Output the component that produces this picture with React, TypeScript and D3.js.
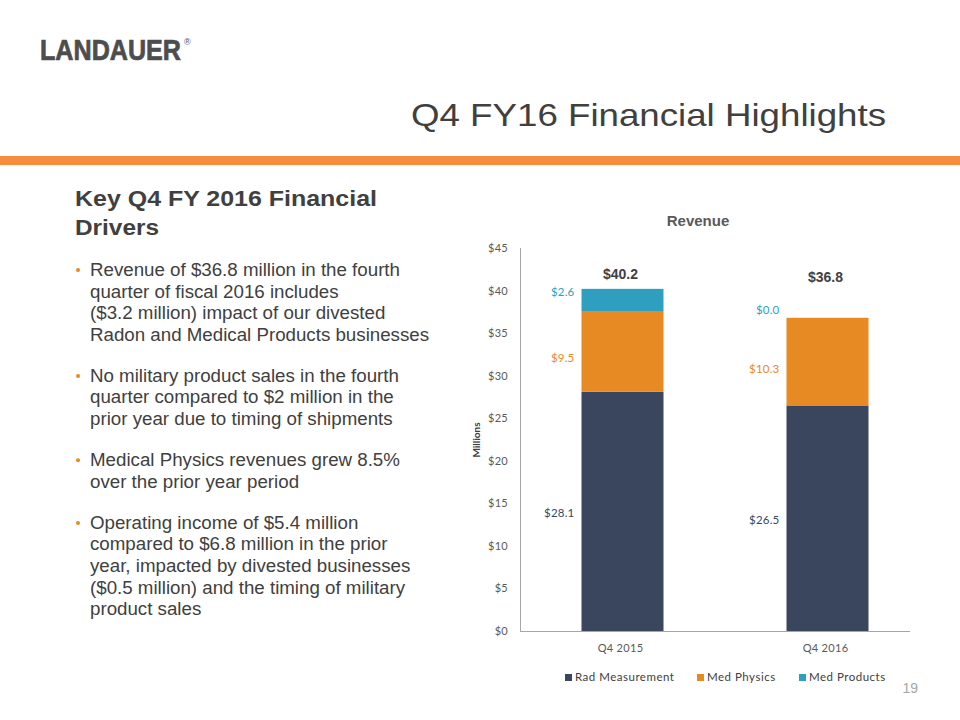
import React from "react";
import * as d3 from "d3";

const categories = ["Q4 2015", "Q4 2016"];
const seriesNames = ["Rad Measurement", "Med Physics", "Med Products"];
const radMeasurement = [28.1, 26.5];
const medPhysics = [9.5, 10.3];
const medProducts = [2.6, 0.0];
const totals = [40.2, 36.8];
const yTicks = [0, 5, 10, 15, 20, 25, 30, 35, 40, 45];
const seriesColors = ["#3A455E", "#E88A24", "#2E9FBF"];
const labelColors = ["#3A455E", "#E88A24", "#2E9FBF"];

const bullets = [
  ["Revenue of $36.8 million in the fourth", "quarter of fiscal 2016 includes", "($3.2 million) impact of our divested", "Radon and Medical Products businesses"],
  ["No military product sales in the fourth", "quarter compared to $2 million in the", "prior year due to timing of shipments"],
  ["Medical Physics revenues grew 8.5%", "over the prior year period"],
  ["Operating income of $5.4 million", "compared to $6.8 million in the prior", "year, impacted by divested businesses", "($0.5 million) and the timing of military", "product sales"],
];

export default function App() {
  const y = d3.scaleLinear().domain([0, 45]).range([631, 248]);
  const x = d3.scaleBand().domain(categories).range([520, 930]).paddingInner(0.6).paddingOuter(0.3);
  const values = [radMeasurement, medPhysics, medProducts];
  const rows = categories.map((c, i) => {
    const r: any = { cat: c };
    seriesNames.forEach((s, k) => (r[s] = values[k][i]));
    return r;
  });
  const stacked = d3.stack().keys(seriesNames)(rows);
  const tickFont = "Lato, 'Open Sans', sans-serif";
  const arial = "'Liberation Sans', Arial, sans-serif";
  const labelDy = [6, 11, -4];

  let lineY = 276;
  const bulletEls: any[] = [];
  bullets.forEach((b, bi) => {
    bulletEls.push(<circle key={"c" + bi} cx={78} cy={lineY - 6} r={2} fill="#E88A24" />);
    b.forEach((ln, li) => {
      bulletEls.push(
        <text key={bi + "-" + li} x={0} y={lineY} fontSize={17.5} transform="translate(90,0) scale(1.07,1)" fill="#404040" fontFamily={arial}>{ln}</text>
      );
      lineY += 21.6;
    });
    lineY += 19.5;
  });

  return (
    <svg width={960} height={720} style={{ position: "absolute", left: 0, top: 0, background: "#fff" }}>
      <rect x={0} y={0} width={960} height={720} fill="#fff" />
      <text x={0} y={0} transform="translate(40,60) scale(1,1.2)" fontSize={25} fontWeight={900} fill="#4D4D4F" fontFamily={arial} textLength={141} lengthAdjust="spacingAndGlyphs" stroke="#4D4D4F" strokeWidth={0.6}>LANDAUER</text>
      <text x={184} y={45} fontSize={9} fill="#4D4D4F" fontFamily={arial}>®</text>
      <text x={886} y={126} fontSize={32} fill="#404040" fontFamily={arial} textAnchor="end" textLength={475} lengthAdjust="spacingAndGlyphs">Q4 FY16 Financial Highlights</text>
      <rect x={0} y={156} width={960} height={9} fill="#F68D3E" />
      <text x={75} y={206} fontSize={22} fontWeight="bold" fill="#404040" fontFamily={arial} textLength={302} lengthAdjust="spacingAndGlyphs">Key Q4 FY 2016 Financial</text>
      <text x={75} y={235} fontSize={22} fontWeight="bold" fill="#404040" fontFamily={arial} textLength={84} lengthAdjust="spacingAndGlyphs">Drivers</text>
      {bulletEls}
      <text x={698} y={226} fontSize={15} fontWeight="bold" fill="#595959" fontFamily={arial} textAnchor="middle">Revenue</text>
      {yTicks.map((t) => (
        <text key={t} x={508} y={y(t) + 4} fontSize={11} letterSpacing={0.3} fill="#595959" fontFamily={tickFont} textAnchor="end">{"$" + t}</text>
      ))}
      <line x1={520.5} x2={520.5} y1={248} y2={631} stroke="#A6A6A6" strokeWidth={1} />
      <text transform={`translate(480,440) rotate(-90)`} fontSize={10} fontWeight="bold" fill="#404040" fontFamily={tickFont} textAnchor="middle">Millions</text>
      {stacked.map((layer, k) =>
        layer.map((d, i) => (
          <rect key={k + "-" + i} x={x(categories[i])} width={x.bandwidth()} y={y(d[1])} height={Math.max(0, y(d[0]) - y(d[1]))} fill={seriesColors[k]} />
        ))
      )}
      <line x1={520} x2={910} y1={631.5} y2={631.5} stroke="#A6A6A6" strokeWidth={1} />
      {stacked.map((layer, k) =>
        layer.map((d, i) => {
          const mid = (y(d[0]) + y(d[1])) / 2;
          return (
            <text key={"l" + k + "-" + i} x={(x(categories[i]) as number) - 7} y={mid + labelDy[k]} fontSize={11.5} letterSpacing={0.2} fill={labelColors[k]} fontFamily={tickFont} textAnchor="end">
              {"$" + values[k][i].toFixed(1)}
            </text>
          );
        })
      )}
      {totals.map((t, i) => (
        <text key={"t" + i} x={(x(categories[i]) as number) + x.bandwidth() / 2 - 2} y={y(41.4) + i * 3} fontSize={14} fontWeight="bold" fill="#404040" fontFamily={arial} textAnchor="middle">
          {"$" + t.toFixed(1)}
        </text>
      ))}
      {categories.map((c) => (
        <text key={c} x={(x(c) as number) + x.bandwidth() / 2 - 2} y={652} fontSize={11} letterSpacing={0.3} fill="#595959" fontFamily={tickFont} textAnchor="middle">{c}</text>
      ))}
      {[565, 697, 799].map((lx, k) => (
        <g key={"lg" + k}>
          <rect x={lx} y={674} width={7} height={7} fill={seriesColors[k]} />
          <text x={lx + 10} y={681} fontSize={11.5} letterSpacing={0.5} fill="#404040" fontFamily={tickFont}>{seriesNames[k]}</text>
        </g>
      ))}
      <text x={918} y={693} fontSize={14} fill="#A6A6A6" fontFamily={arial} textAnchor="end">19</text>
    </svg>
  );
}
